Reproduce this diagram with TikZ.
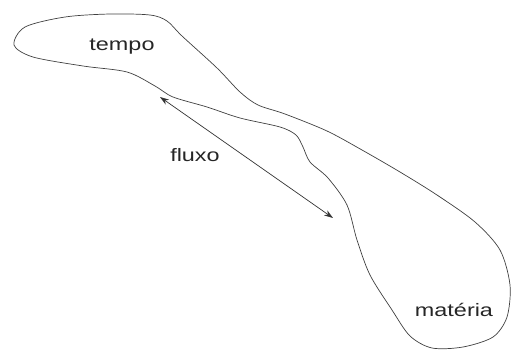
\documentclass[tikz,border=0pt]{standalone}
\usepackage{fontspec}
\setmainfont{Liberation Sans}
\usetikzlibrary{arrows.meta}
\newcommand{\wide}[1]{\scalebox{1.3}[1]{#1}}
\begin{document}
\begin{tikzpicture}[x=1pt, y=-1pt, >={Stealth[length=9pt, width=6pt]},
  lbl/.style={font=\fontsize{18}{18}\selectfont, text=black!85}]
  \useasboundingbox (0,0) rectangle (512,353);

  % outline
  \draw[black!75, line width=0.7pt] plot[smooth cycle, tension=0.5] coordinates {
    (14,45) (25,27) (65,17) (110,14) (150,15) (167,21) (182,36) (217,68)
    (240,92) (258,105) (285,114) (327,131) (362,150) (400,172) (437,195)
    (475,222) (500,250) (510,285) (507,317) (493,337) (463,347) (432,348)
    (410,336) (392,310) (370,275) (357,240) (347,205) (328,178) (310,162)
    (303,147) (296,135) (280,127) (240,118) (207,107) (173,97) (155,86)
    (127,72) (83,66) (33,57)};

  \node[lbl] (tempo) at (122,47) {\wide{tempo}};
  \node[lbl] (fluxo) at (195,155) {\wide{fluxo}};
  \node[lbl] (materia) at (454,310) {\wide{matéria}};

  \coordinate (a) at (160,97);
  \coordinate (b) at (333,218);
  \draw[<->, black!80, line width=0.7pt] (a) -- (b);
\end{tikzpicture}
\end{document}
